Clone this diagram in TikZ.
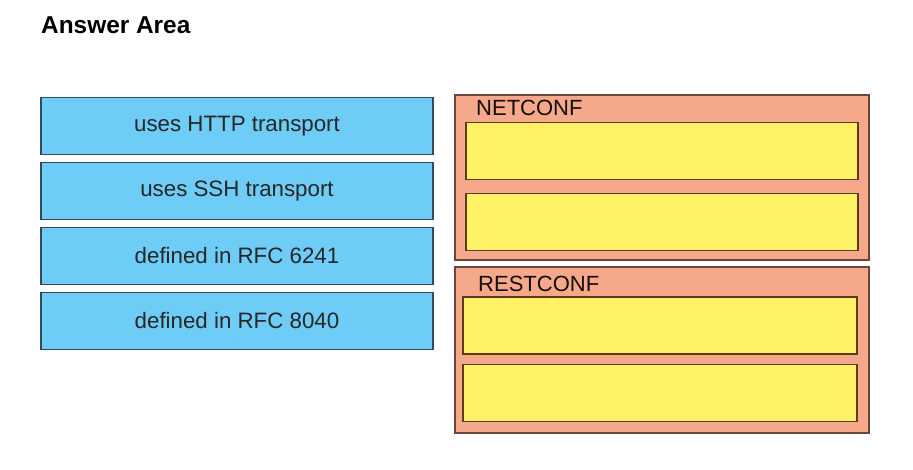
\documentclass[tikz,border=0pt]{standalone}
\usepackage{fontspec}
\setmainfont{Liberation Sans}
\usetikzlibrary{positioning}

\definecolor{optblue}{HTML}{6DCDF7}
\definecolor{optedge}{HTML}{34495A}
\definecolor{grpfill}{HTML}{F6A98A}
\definecolor{grpedge}{HTML}{6A4538}
\definecolor{slotfill}{HTML}{FFF166}
\definecolor{slotedge}{HTML}{5E3B1E}

\tikzset{
  option/.style={draw=optedge, fill=optblue, line width=1.6pt, minimum width=392pt,
    minimum height=57pt, inner sep=0pt, font=\fontsize{22.3}{26}\selectfont, text=black!85},
  group/.style={draw=grpedge, fill=grpfill, line width=1.6pt, minimum width=414pt, inner sep=0pt},
  slot/.style={draw=slotedge, fill=slotfill, line width=1.8pt, minimum height=57pt, inner sep=0pt},
  grouplabel/.style={anchor=west, inner sep=0pt, font=\fontsize{22}{26}\selectfont, text=black!90!brown}
}

\begin{document}
\begin{tikzpicture}[x=1pt, y=-1pt]
                        \useasboundingbox (0, 0) rectangle (913, 469);

                        \node[anchor=west, inner sep=0pt, font=\bfseries\fontsize{24.4}{28}\selectfont] (title) at (41, 25) {Answer Area};

                        % choices on the left
                        \node[option] (http) at (237, 126) {uses HTTP transport};
                        \node[option] (ssh) at (237, 191) {uses SSH transport};
                        \node[option] (rfc6241) at (237, 256) {defined in RFC 6241};
                        \node[option] (rfc8040) at (237, 321) {defined in RFC 8040};

                        % target groups on the right
                        \node[group, minimum height=165pt] (netconf) at (662, 177.5) {};
                        \node[grouplabel] (netconflabel) at (476, 108) {NETCONF};
                        \node[slot, minimum width=392pt] (netslota) at (662, 151) {};
                        \node[slot, minimum width=392pt] (netslotb) at (662, 222) {};

                        \node[group, minimum height=166pt] (restconf) at (662, 350) {};
                        \node[grouplabel] (restconflabel) at (478, 284) {RESTCONF};
                        \node[slot, minimum width=394pt] (restslota) at (660, 325.5) {};
                        \node[slot, minimum width=394pt] (restslotb) at (660, 393) {};
                    \end{tikzpicture}
\end{document}
